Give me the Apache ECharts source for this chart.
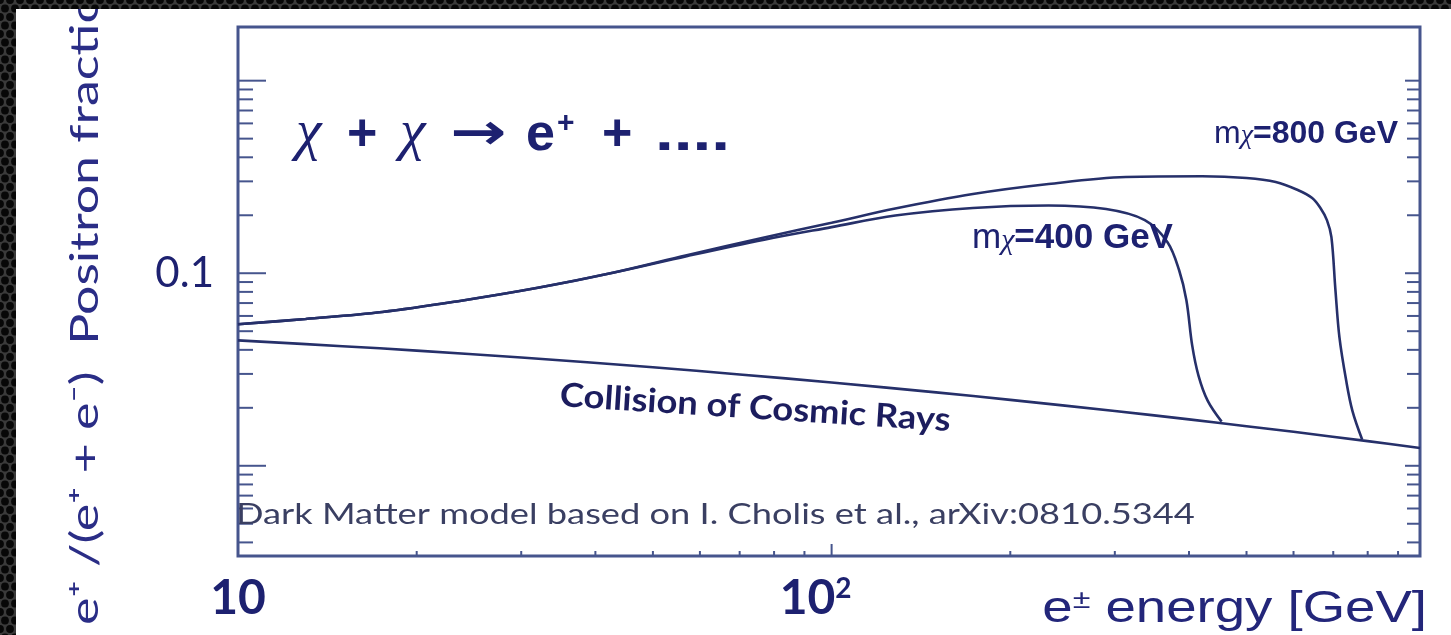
<!DOCTYPE html>
<html>
<head>
<meta charset="utf-8">
<script src="https://cdn.jsdelivr.net/npm/echarts@6/dist/echarts.min.js"></script>
<style>
  html, body { margin: 0; padding: 0; background: #111; }
  #chart { width: 1451px; height: 635px; }
</style>
</head>
<body>
<div id="chart"></div>
<script>
// Positron fraction e+/(e+ + e-) versus e± energy (GeV), log-log.

// Secondary positrons from cosmic-ray collisions
const bgEnergy   = [10, 15, 20, 30, 50, 70, 100, 150, 200, 300, 400, 500, 600, 800, 980];
const bgFraction = [0.0448, 0.0418, 0.03965, 0.03649, 0.03246, 0.02981, 0.02706, 0.02405,
                    0.02199, 0.01925, 0.01742, 0.01606, 0.01501, 0.01343, 0.01238];

// Dark matter annihilation, m_chi = 400 GeV
const dm400Energy   = [10, 13, 17.5, 23.5, 32, 43, 57, 77, 100, 128, 173, 232, 290, 337,
                       368, 385, 396, 405, 415, 430, 454];
const dm400Fraction = [0.0543, 0.0579, 0.0629, 0.0716, 0.0840, 0.1008, 0.1226, 0.1494,
                       0.1736, 0.1993, 0.2182, 0.2247, 0.2154, 0.1888,
                       0.1450, 0.1036, 0.0724, 0.0422, 0.0294, 0.0218, 0.01695];

// Dark matter annihilation, m_chi = 800 GeV
const dm800Energy   = [10, 13, 17.5, 23.5, 32, 43, 57, 77, 100, 128, 173, 232, 313, 421,
                       500, 560, 610, 645, 666, 683, 695, 706, 717, 736, 754, 783];
const dm800Fraction = [0.0543, 0.0579, 0.0629, 0.0716, 0.0840, 0.1010, 0.1241, 0.1534,
                       0.1828, 0.2168, 0.2579, 0.2907, 0.3158, 0.3188,
                       0.3124, 0.2979, 0.2706, 0.2458, 0.2182, 0.1888, 0.154, 0.0815,
                       0.0464, 0.0277, 0.0193, 0.0137];

// Axis extents and tick values
const xRange = [10, 980];
const yRange = [0.0034, 1.9];
const xMajorTicks = [10, 100];
const xMinorTicks = [20, 30, 40, 50, 60, 70, 80, 90, 200, 300, 400, 500, 600, 700, 800, 900];
const yMajorTicks = [0.01, 0.1, 1];
const yMinorTicks = [0.004, 0.005, 0.006, 0.007, 0.008, 0.009,
                     0.02, 0.03, 0.04, 0.05, 0.06, 0.07, 0.08, 0.09,
                     0.2, 0.3, 0.4, 0.5, 0.6, 0.7, 0.8, 0.9];
const xTickLabels = [[10, '{n|10}'], [100, '{n|10}{s|2}']];
const yTickLabels = [[0.1, '0.1']];

const NAVY = '#1d2170';
const CURVE = '#26306a';
const FRAME = '#46558d';

function zip(a, b) { return a.map((v, i) => [v, b[i]]); }
function near(v, t) { return Math.abs(v - t) / t < 1e-6; }
function lookup(list, v) {
  for (const [t, s] of list) if (near(v, t)) return s;
  return '';
}

// Honeycomb texture for the dark surround
function honeycomb() {
  const c = document.createElement('canvas');
  c.width = 10; c.height = 17;
  const g = c.getContext('2d');
  g.fillStyle = '#3a3a3a';
  g.fillRect(0, 0, 10, 17);
  g.fillStyle = '#070707';
  [[0, 0], [10, 0], [0, 17], [10, 17], [5, 8.5]].forEach(([x, y]) => {
    g.beginPath(); g.arc(x, y, 3.9, 0, Math.PI * 2); g.fill();
  });
  return { image: c, repeat: 'repeat' };
}

// Inward tick marks drawn through the axis scales
function xTickSeries(values, len) {
  return {
    type: 'custom', coordinateSystem: 'cartesian2d', silent: true, clip: false, z: 6,
    data: values.map(v => [v, yRange[0]]),
    renderItem(params, api) {
      const p = api.coord([api.value(0), yRange[0]]);
      return {
        type: 'line',
        shape: { x1: p[0], y1: p[1], x2: p[0], y2: p[1] - len },
        style: { stroke: FRAME, lineWidth: 2 }
      };
    }
  };
}
function yTickSeries(values, lenL, lenR) {
  return {
    type: 'custom', coordinateSystem: 'cartesian2d', silent: true, clip: false, z: 6,
    data: values.map(v => [xRange[0], v]),
    renderItem(params, api) {
      const l = api.coord([xRange[0], api.value(1)]);
      const r = api.coord([xRange[1], api.value(1)]);
      return {
        type: 'group',
        children: [
          { type: 'line', shape: { x1: l[0], y1: l[1], x2: l[0] + lenL, y2: l[1] },
            style: { stroke: FRAME, lineWidth: 2 } },
          { type: 'line', shape: { x1: r[0], y1: r[1], x2: r[0] - lenR, y2: r[1] },
            style: { stroke: FRAME, lineWidth: 2 } }
        ]
      };
    }
  };
}

function curve(name, data) {
  return {
    name, type: 'line', data, z: 7,
    showSymbol: false, smooth: 0.35,
    lineStyle: { color: CURVE, width: 2.6 }
  };
}

// Text placed by its baseline (text is drawn centred, baseline ~0.35em below centre)
function textAt(x, baseline, text, font, extra) {
  const size = font.fontSize;
  return Object.assign({
    type: 'text', z: 8, x, y: baseline - 0.35 * size,
    style: Object.assign({ text, fill: NAVY, textAlign: 'left', textVerticalAlign: 'middle' }, font)
  }, extra || {});
}
const boldSans = { fontFamily: 'Liberation Sans', fontWeight: 'bold', fontSize: 52 };
const chiFont = { fontFamily: 'Liberation Serif', fontStyle: 'italic', fontSize: 58 };
const FORMULA_BASE = 154;

const chart = echarts.init(document.getElementById('chart'), null, { renderer: 'canvas' });

chart.setOption({
  animation: false,
  backgroundColor: 'transparent',
  grid: {
    left: 238, top: 27, right: 31, bottom: 79,
    show: true, borderColor: FRAME, borderWidth: 3, backgroundColor: 'transparent', z: 5
  },
  xAxis: {
    type: 'log', logBase: 10, min: xRange[0], max: xRange[1], z: 5,
    axisLine: { show: false }, axisTick: { show: false }, splitLine: { show: false },
    axisLabel: {
      margin: 19, showMinLabel: true, showMaxLabel: true, hideOverlap: false,
      formatter: v => lookup(xTickLabels, v),
      rich: {
        n: { fontFamily: 'Lato', fontWeight: 'bold', fontSize: 48, color: NAVY },
        s: { fontFamily: 'Lato', fontWeight: 'bold', fontSize: 28, color: NAVY,
             verticalAlign: 'top', padding: [0, 32, 0, 0] }
      }
    }
  },
  yAxis: {
    type: 'log', logBase: 10, min: yRange[0], max: yRange[1], z: 5,
    axisLine: { show: false }, axisTick: { show: false }, splitLine: { show: false },
    axisLabel: {
      margin: 24, showMinLabel: true, showMaxLabel: true,
      fontFamily: 'Lato', fontSize: 42, color: NAVY,
      formatter: v => lookup(yTickLabels, v)
    }
  },
  graphic: [
    { type: 'rect', z: -10, shape: { x: 0, y: 0, width: 1451, height: 635 }, style: { fill: honeycomb() } },
    { type: 'rect', z: -9, shape: { x: 16, y: 9, width: 1435, height: 626 }, style: { fill: '#ffffff' } },
    {
      type: 'text', z: -8, x: 105, y: 625, rotation: Math.PI / 2, scaleX: 1.33,
      style: {
        text: 'e\u207A /(e\u207A + e\u207B)  Positron fraction',
        fontFamily: 'Lato', fontSize: 39, fill: '#2a2d86',
        textAlign: 'left', textVerticalAlign: 'bottom'
      }
    },
    { type: 'rect', z: -7, shape: { x: 0, y: 0, width: 1451, height: 9 }, style: { fill: honeycomb() } },

    // χ + χ → e+ + ....
    textAt(296, FORMULA_BASE, '\u03C7', chiFont),
    textAt(347, FORMULA_BASE, '+', boldSans),
    textAt(400, FORMULA_BASE, '\u03C7', chiFont),
    textAt(450, FORMULA_BASE, '\u2192', { fontFamily: 'DejaVu Sans', fontWeight: 'bold', fontSize: 50 }, { scaleX: 1.35 }),
    textAt(526, FORMULA_BASE, 'e', boldSans),
    textAt(557, FORMULA_BASE - 20, '+', { fontFamily: 'Liberation Sans', fontWeight: 'bold', fontSize: 30 }),
    textAt(602, FORMULA_BASE, '+', boldSans),
    textAt(655, FORMULA_BASE, '....', boldSans, { scaleX: 1.3 }),

    {
      type: 'text', z: 8, x: 1398, y: 150,
      style: {
        text: '{m|m}{c|\u03C7}{v|=800 GeV}',
        textAlign: 'right', textVerticalAlign: 'bottom',
        rich: {
          m: { fontFamily: 'Liberation Sans', fontSize: 32, fill: NAVY },
          c: { fontFamily: 'Liberation Serif', fontStyle: 'italic', fontSize: 28, fill: NAVY, verticalAlign: 'bottom' },
          v: { fontFamily: 'Liberation Sans', fontWeight: 'bold', fontSize: 32, fill: NAVY }
        }
      }
    },
    {
      type: 'text', z: 8, x: 972, y: 256,
      style: {
        text: '{m|m}{c|\u03C7}{v|=400 GeV}',
        textAlign: 'left', textVerticalAlign: 'bottom',
        rich: {
          m: { fontFamily: 'Liberation Sans', fontSize: 35, fill: NAVY },
          c: { fontFamily: 'Liberation Serif', fontStyle: 'italic', fontSize: 30, fill: NAVY, verticalAlign: 'bottom' },
          v: { fontFamily: 'Liberation Sans', fontWeight: 'bold', fontSize: 35, fill: NAVY }
        }
      }
    },
    textAt(560, 407, 'Collision of Cosmic Rays',
      { fontFamily: 'Lato', fontWeight: 'bold', fontSize: 33, fill: '#1c1d5e' },
      { rotation: -0.064, scaleX: 1.1 }),
    textAt(236, 525, 'Dark Matter model based on I. Cholis et al., arXiv:0810.5344',
      { fontFamily: 'Lato', fontSize: 29, fill: '#3a3f62' },
      { scaleX: 1.25 }),
    {
      type: 'text', z: 8, x: 1427, y: 632, scaleX: 1.24,
      style: {
        text: '{e|e}{s|\u00B1}{t| energy [GeV]}',
        textAlign: 'right', textVerticalAlign: 'bottom',
        rich: {
          e: { fontFamily: 'Liberation Sans', fontSize: 44, fill: '#23267a' },
          s: { fontFamily: 'Liberation Sans', fontSize: 26, fill: '#23267a', verticalAlign: 'top' },
          t: { fontFamily: 'Liberation Sans', fontSize: 44, fill: '#23267a' }
        }
      }
    }
  ],
  series: [
    curve('Collision of Cosmic Rays', zip(bgEnergy, bgFraction)),
    curve('m\u03C7=400 GeV', zip(dm400Energy, dm400Fraction)),
    curve('m\u03C7=800 GeV', zip(dm800Energy, dm800Fraction)),
    xTickSeries(xMajorTicks, 12),
    xTickSeries(xMinorTicks, 5),
    yTickSeries(yMajorTicks, 28, 15),
    yTickSeries(yMinorTicks, 15, 13)
  ]
});
</script>
</body>
</html>
